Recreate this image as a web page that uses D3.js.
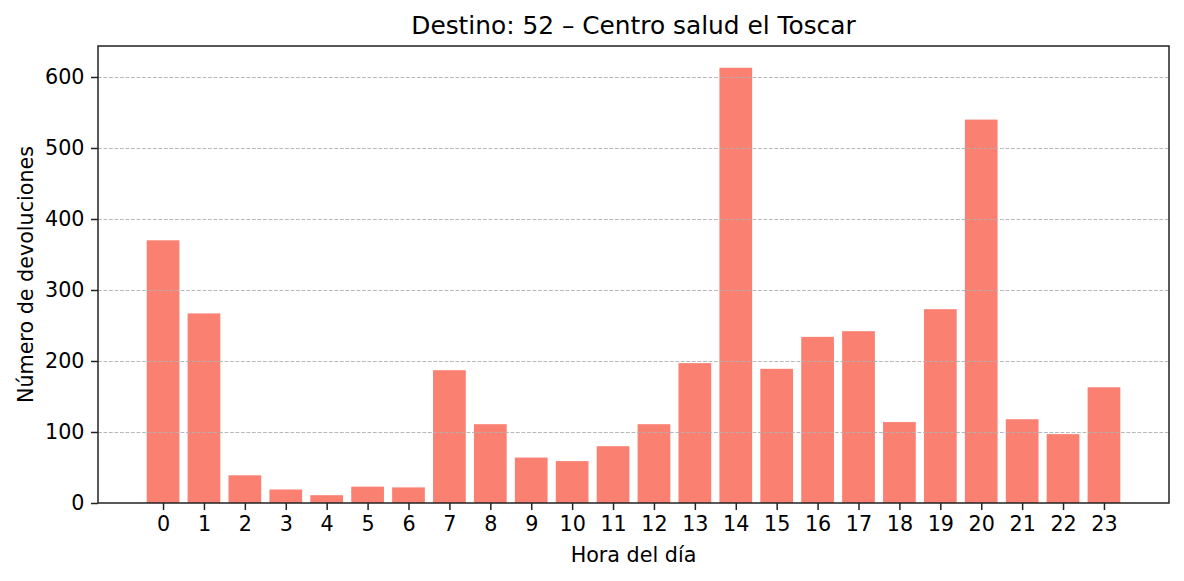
<!DOCTYPE html>
<html><head><meta charset="utf-8">
<script src="https://cdn.jsdelivr.net/npm/d3@7"></script>
<style>body{margin:0;background:#fff}svg{display:block}text{font-family:"DejaVu Sans",sans-serif;fill:#000}</style>
</head><body><svg id="c" width="1184" height="581"></svg>
<script>
const hours = [0,1,2,3,4,5,6,7,8,9,10,11,12,13,14,15,16,17,18,19,20,21,22,23];
const values = [370,267,39,19,11,23,22,187,111,64,59,80,111,197,613,189,234,242,114,273,540,118,97,163];
const yTicks = [0,100,200,300,400,500,600];
const title = "Destino: 52 – Centro salud el Toscar";
const xLabel = "Hora del día";
const yLabel = "Número de devoluciones";

const svg = d3.select("#c");
const L=98, R=1169, T=46, B=503;
const FS = 20.7;
const x = d3.scaleLinear().domain([-1.59, 24.59]).range([L, R]);
const y = d3.scaleLinear().domain([0, 643.65]).range([B, T]);

// bars
svg.append("g").selectAll("rect").data(values).join("rect")
  .attr("x", (d,i)=>x(hours[i]-0.4)).attr("width", x(0.8)-x(0))
  .attr("y", d=>y(d)).attr("height", d=>B-y(d)).attr("fill","#FA8072");

// grid
svg.append("g").selectAll("line").data(yTicks.filter(d=>d>0)).join("line")
  .attr("x1",L).attr("x2",R).attr("y1",d=>Math.round(y(d))+0.5).attr("y2",d=>Math.round(y(d))+0.5)
  .attr("stroke","#b0b0b0").attr("stroke-width",0.9).attr("stroke-dasharray","3.8,1.7");

// axes
const xAxis = d3.axisBottom(x).tickValues(hours).tickFormat(d3.format("d")).tickSize(7).tickSizeOuter(0).tickPadding(6);
const gx = svg.append("g").attr("transform",`translate(0,${B})`).call(xAxis);
const yAxis = d3.axisLeft(y).tickValues(yTicks).tickFormat(d3.format("d")).tickSize(7).tickSizeOuter(0).tickPadding(6.5);
const gy = svg.append("g").attr("transform",`translate(${L},0)`).call(yAxis);
[gx,gy].forEach(g=>{
  g.select(".domain").remove();
  g.selectAll(".tick line").attr("stroke","#222").attr("stroke-width",1.5);
  g.selectAll(".tick text").attr("font-size",FS).attr("font-family","DejaVu Sans").attr("fill","#000");
});
// frame
svg.append("rect").attr("x",L).attr("y",T).attr("width",R-L).attr("height",B-T)
  .attr("fill","none").attr("stroke","#222").attr("stroke-width",1.5);

svg.append("text").attr("x",(L+R)/2).attr("y",34).attr("text-anchor","middle").attr("font-size",FS*1.2).text(title);
svg.append("text").attr("x",(L+R)/2).attr("y",561.5).attr("text-anchor","middle").attr("font-size",FS).text(xLabel);
svg.append("text").attr("transform",`translate(33,${(T+B)/2}) rotate(-90)`).attr("text-anchor","middle").attr("font-size",FS).text(yLabel);
</script></body></html>
